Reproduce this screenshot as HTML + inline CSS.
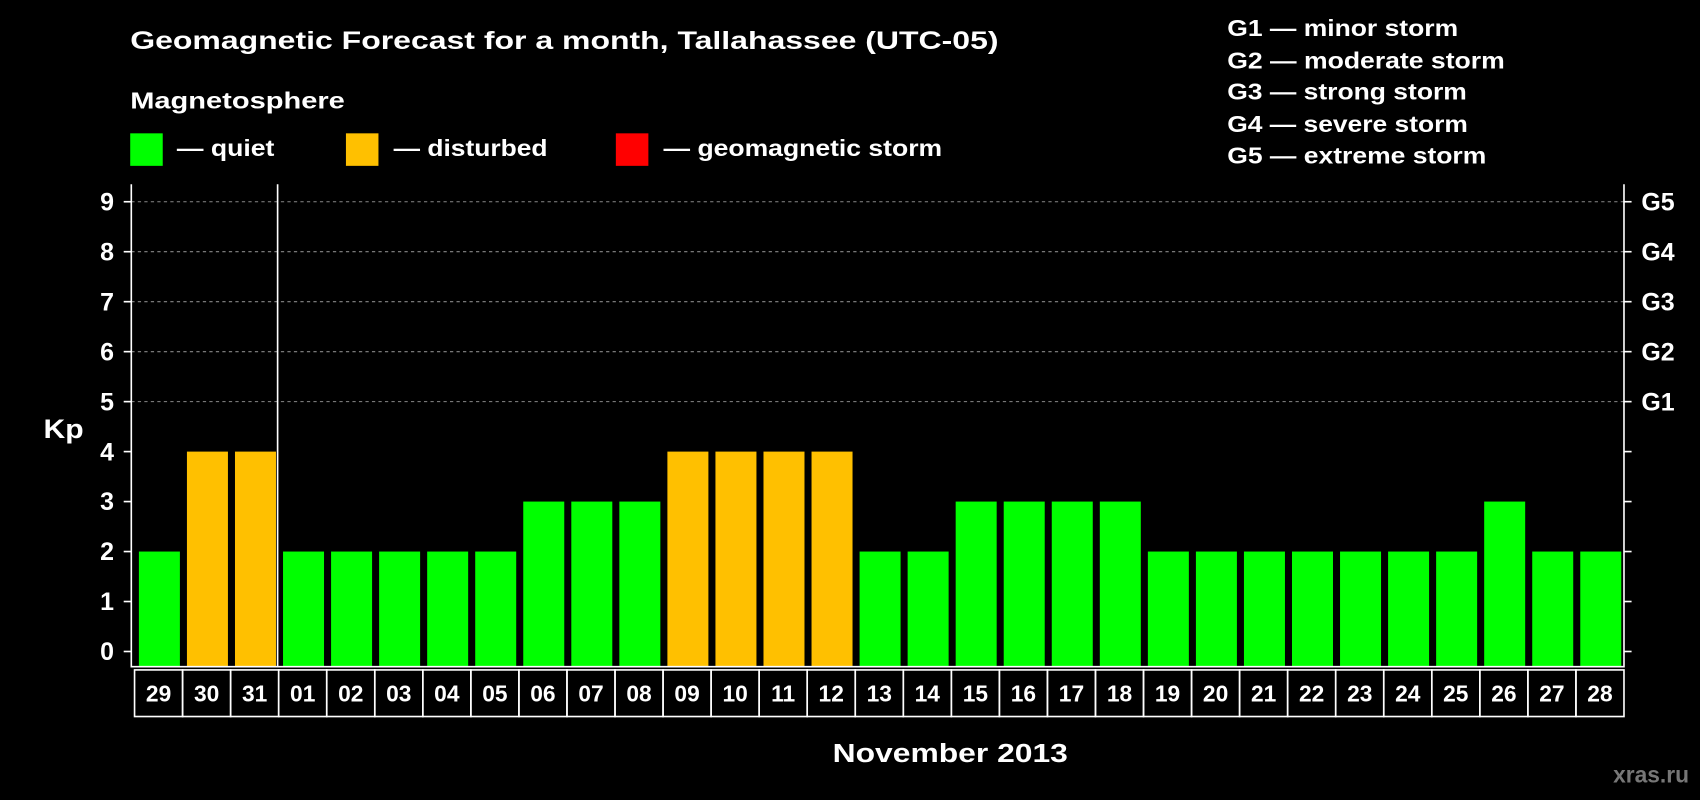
<!DOCTYPE html>
<html><head><meta charset="utf-8"><style>
html,body{margin:0;padding:0;background:#000;width:1700px;height:800px;overflow:hidden}
svg{display:block}
text{font-family:"Liberation Sans",sans-serif;font-weight:bold;fill:#fff}
</style></head><body>
<svg id="chart" width="1700" height="800" viewBox="0 0 1568 738" xmlns="http://www.w3.org/2000/svg">
<rect width="1568" height="738" fill="#000"/>
<text x="120" y="45" font-size="23" textLength="801" lengthAdjust="spacingAndGlyphs">Geomagnetic Forecast for a month, Tallahassee (UTC-05)</text>
<text x="120" y="100" font-size="21" textLength="198" lengthAdjust="spacingAndGlyphs">Magnetosphere</text>
<rect x="120" y="123" width="30" height="30" fill="#00ff00"/>
<text x="163" y="144" font-size="21" textLength="90" lengthAdjust="spacingAndGlyphs">— quiet</text>
<rect x="319" y="123" width="30" height="30" fill="#ffc000"/>
<text x="363" y="144" font-size="21" textLength="142" lengthAdjust="spacingAndGlyphs">— disturbed</text>
<rect x="568" y="123" width="30" height="30" fill="#ff0000"/>
<text x="612" y="144" font-size="21" textLength="257" lengthAdjust="spacingAndGlyphs">— geomagnetic storm</text>
<g font-size="21">
<text x="1132" y="33" textLength="213" lengthAdjust="spacingAndGlyphs">G1 — minor storm</text>
<text x="1132" y="63" textLength="256" lengthAdjust="spacingAndGlyphs">G2 — moderate storm</text>
<text x="1132" y="92" textLength="221" lengthAdjust="spacingAndGlyphs">G3 — strong storm</text>
<text x="1132" y="122" textLength="222" lengthAdjust="spacingAndGlyphs">G4 — severe storm</text>
<text x="1132" y="151" textLength="239" lengthAdjust="spacingAndGlyphs">G5 — extreme storm</text>
</g>
<text x="40" y="404" font-size="25" textLength="37" lengthAdjust="spacingAndGlyphs">Kp</text>
<text x="768" y="703" font-size="24" textLength="217" lengthAdjust="spacingAndGlyphs">November 2013</text>
<text x="1558" y="722" font-size="21" text-anchor="end" style="fill:#777">xras.ru</text>
<g id="grid"></g><g id="bars"></g><g id="axes"></g><g id="dates"></g>
</svg>
<script>
const days = ["29","30","31","01","02","03","04","05","06","07","08","09","10","11","12","13","14","15","16","17","18","19","20","21","22","23","24","25","26","27","28"];
const kpValues = [2,4,4,2,2,2,2,2,3,3,3,4,4,4,4,2,2,3,3,3,3,2,2,2,2,2,2,2,3,2,2];
const yTicks = [0,1,2,3,4,5,6,7,8,9];
const gLabels = {5:"G1",6:"G2",7:"G3",8:"G4",9:"G5"};
const NS="http://www.w3.org/2000/svg";
const L=121,R=1498,T=170,B=615,X0=124;
const pitch=(R-X0)/days.length;
function y(v){return 601-v*46.1;}
function x(i){return X0+i*pitch;}
function mk(tag,attrs,parent){const e=document.createElementNS(NS,tag);for(const k in attrs)e.setAttribute(k,attrs[k]);parent.appendChild(e);return e;}
const grid=document.getElementById('grid'),bars=document.getElementById('bars'),axes=document.getElementById('axes'),dates=document.getElementById('dates');
yTicks.forEach(v=>{
  if(v>=5){const g=mk('line',{x1:L,x2:R,y1:y(v),y2:y(v),stroke:'#888','stroke-dasharray':'3,3','stroke-width':1},grid);
    
    }
  const t=mk('line',{x1:L-7,x2:L,y1:y(v),y2:y(v),stroke:'#fff','stroke-width':1.5},axes);
  
  
  const t2=mk('line',{x1:R,x2:R+7,y1:y(v),y2:y(v),stroke:'#fff','stroke-width':1.5},axes);
  
  
  const lb=mk('text',{x:105,y:y(v)+8,'font-size':23,'text-anchor':'end'},axes);lb.textContent=v;
  
  
  if(gLabels[v]){const gl=mk('text',{x:1514,y:y(v)+8,'font-size':23},axes);gl.textContent=gLabels[v];
    
    }
});
kpValues.forEach((v,i)=>{
  const c=v>=5?'#ff0000':(v>=4?'#ffc000':'#00ff00');
  const b=mk('rect',{x:x(i)+4,y:y(v),width:pitch-6.5,height:B-y(v),fill:c},bars);
  
  
  const cell=mk('rect',{x:x(i),y:618,width:pitch,height:43,fill:'none',stroke:'#fff','stroke-width':1.5},dates);
  
  
  const t=mk('text',{x:x(i)+pitch/2,y:647,'font-size':21,'text-anchor':'middle'},dates);t.textContent=days[i];
  
  
});
const frame=mk('path',{d:`M${L} ${T}V${B}H${R}V${T}`,fill:'none',stroke:'#fff','stroke-width':1.5},axes);


const mon=mk('line',{x1:x(3)-1,x2:x(3)-1,y1:T,y2:B,stroke:'#fff','stroke-width':1.5},axes);


</script>
</body></html>
